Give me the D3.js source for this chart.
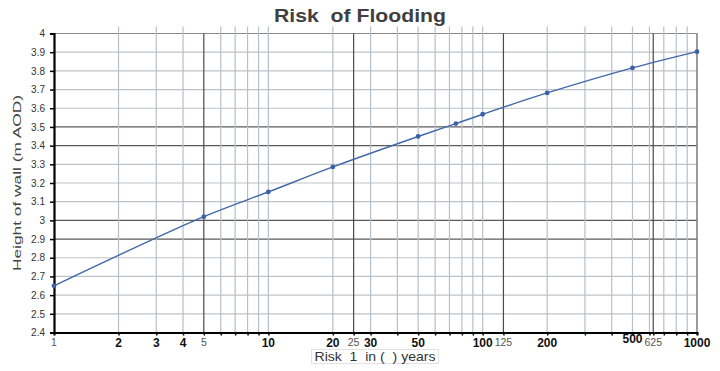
<!DOCTYPE html>
<html><head><meta charset="utf-8">
<script src="https://cdn.jsdelivr.net/npm/d3@7"></script>
<style>body{margin:0;background:#fff}svg{display:block;font-family:Arial,"Liberation Sans",sans-serif}</style>
</head><body><svg id="c" width="720" height="371"></svg>
<script>
const years = [1, 5, 10, 20, 50, 75, 100, 200, 500, 1000];
const heights = [2.65, 3.02, 3.152, 3.286, 3.449, 3.518, 3.568, 3.682, 3.816, 3.903];
const lightX = [2,3,4,6,7,8,9,10,20,30,40,50,60,70,80,90,100,200,300,400,500,600,700,800,900];
const darkX = [5,25,125,625];
const boldXLabels = [2,3,4,10,20,30,50,100,200,500,1000];
const plainXLabels = [1,5,25,125,625];
const yTicks = [2.4,2.5,2.6,2.7,2.8,2.9,3.0,3.1,3.2,3.3,3.4,3.5,3.6,3.7,3.8,3.9,4.0];
const darkY = [2.9,3.0,3.4,3.5];
const title = "Risk  of Flooding";
const yTitle = "Height of wall (m AOD)";
const xTitle = "Risk  1  in (  ) years";

const svg = d3.select("#c");
const L = 54, R = 697, T = 33.5, B = 332.5;
const x = d3.scaleLog().domain([1,1000]).range([L,R]);
const y = d3.scaleLinear().domain([2.4,4]).range([B,T]);

// horizontal grid
svg.append("g").selectAll("line").data(yTicks).join("line")
  .attr("x1",L).attr("x2",R).attr("y1",d=>y(d)).attr("y2",d=>y(d))
  .attr("stroke",d=>darkY.some(v=>Math.abs(v-d)<1e-9)?"#5a5a5a":(d===4?"#8a8a8a":"#bfc3c7"))
  .attr("stroke-width",1.2);
// vertical grid
svg.append("g").selectAll("line").data(lightX).join("line")
  .attr("x1",d=>x(d)).attr("x2",d=>x(d)).attr("y1",T-7).attr("y2",B)
  .attr("stroke","#b4c0ca").attr("stroke-width",1.2);
svg.append("g").selectAll("line").data(darkX).join("line")
  .attr("x1",d=>x(d)).attr("x2",d=>x(d)).attr("y1",T).attr("y2",B)
  .attr("stroke","#4a4a4a").attr("stroke-width",1.2);
// right border
svg.append("line").attr("x1",R).attr("x2",R).attr("y1",T).attr("y2",B).attr("stroke","#7a7a7a").attr("stroke-width",1.5);

// axes
const yAxis = d3.axisLeft(y).tickValues(yTicks).tickSize(4)
  .tickFormat(d=>d3.format("")(+d.toFixed(1)));
const gy = svg.append("g").attr("transform",`translate(${L},0)`).call(yAxis);
gy.select(".domain").attr("stroke","#000").attr("stroke-width",2.2);
gy.selectAll(".tick line").attr("stroke","#000").attr("stroke-width",1.5);
gy.selectAll(".tick text").attr("fill","#333").attr("font-size",10).attr("x",-9).attr("font-family","Arial, Liberation Sans, sans-serif");

const gx = svg.append("g").attr("transform",`translate(0,${B})`)
  .call(d3.axisBottom(x).tickValues(lightX.concat(darkX)).tickSize(3).tickFormat(""));
gx.select(".domain").attr("stroke","#000").attr("stroke-width",2.2);
gx.selectAll(".tick line").attr("stroke","#000").attr("stroke-width",1.5);

svg.append("g").selectAll("text").data(boldXLabels).join("text")
  .attr("x",d=>x(d)).attr("y",d=>d===500?343:347).attr("text-anchor","middle")
  .attr("font-size",12).attr("font-weight","bold").attr("fill","#111").text(d=>d);
svg.append("g").selectAll("text").data(plainXLabels).join("text")
  .attr("x",d=>x(d)).attr("y",346).attr("text-anchor","middle")
  .attr("font-size",10.5).attr("fill","#555").text(d=>d);

// title
svg.append("text").attr("x",360).attr("y",22).attr("text-anchor","middle")
  .attr("font-size",18).attr("font-weight","bold").attr("fill","#404040")
  .attr("textLength",172).attr("lengthAdjust","spacingAndGlyphs")
  .style("white-space","pre").text(title);
// y title
svg.append("text").attr("transform","translate(21,183) rotate(-90)").attr("text-anchor","middle")
  .attr("font-size",11).attr("fill","#444").attr("textLength",176).attr("lengthAdjust","spacingAndGlyphs")
  .style("white-space","pre").text(yTitle);
// x title box
svg.append("rect").attr("x",311.5).attr("y",349.5).attr("width",127).attr("height",14)
  .attr("fill","#fff").attr("stroke","#e2e2e2");
svg.append("text").attr("x",375).attr("y",361).attr("text-anchor","middle")
  .attr("font-size",13).attr("fill","#333").attr("textLength",121).attr("lengthAdjust","spacingAndGlyphs")
  .style("white-space","pre").text(xTitle);

// line
const data = years.map((v,i)=>({x:v,y:heights[i]}));
svg.append("path").datum(data)
  .attr("d",d3.line().x(d=>x(d.x)).y(d=>y(d.y)).curve(d3.curveCatmullRom.alpha(0.5)))
  .attr("fill","none").attr("stroke","#4168a8").attr("stroke-width",1.4);
svg.append("g").selectAll("circle").data(data).join("circle")
  .attr("cx",d=>x(d.x)).attr("cy",d=>y(d.y)).attr("r",2.4).attr("fill","#3a62a8");
</script></body></html>
